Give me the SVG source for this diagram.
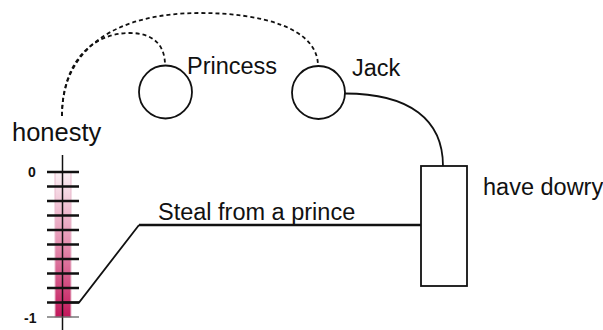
<svg xmlns="http://www.w3.org/2000/svg" width="603" height="330" viewBox="0 0 603 330">
<defs>
<linearGradient id="pink" x1="0" y1="0" x2="0" y2="1">
<stop offset="0" stop-color="#fbf1f5"/>
<stop offset="0.5" stop-color="#e48fb0"/>
<stop offset="1" stop-color="#c2185b"/>
</linearGradient>
<style>
text{font-family:"Liberation Sans",Arial,sans-serif;fill:#111;}
.lbl{font-size:23.5px;}
.num{font-size:14px;font-weight:bold;}
.node{fill:#fff;stroke:#111;stroke-width:1.8;}
.dash{fill:none;stroke:#111;stroke-width:1.8;stroke-dasharray:4 3;}
.solid{fill:none;stroke:#111;stroke-width:1.8;}
.tick{stroke:#111;stroke-width:2.5;}
</style>
</defs>
<rect width="603" height="330" fill="#fff"/>
<g id="honesty">
<text x="12" y="141" style="font-size:25.5px">honesty</text>
<rect x="55" y="172" width="16" height="145" fill="url(#pink)" stroke="#e7b9cb" stroke-width="1"/>
<line x1="62.5" y1="155" x2="62.5" y2="330" stroke="#111" stroke-width="1.5"/>
<g class="tick">
<line x1="47" y1="172" x2="79" y2="172"/>
<line x1="47" y1="186.5" x2="79" y2="186.5"/>
<line x1="47" y1="201" x2="79" y2="201"/>
<line x1="47" y1="215.5" x2="79" y2="215.5"/>
<line x1="47" y1="230" x2="79" y2="230"/>
<line x1="47" y1="244.5" x2="79" y2="244.5"/>
<line x1="47" y1="259" x2="79" y2="259"/>
<line x1="47" y1="273.5" x2="79" y2="273.5"/>
<line x1="47" y1="288" x2="79" y2="288"/>
<line x1="47" y1="302.5" x2="79" y2="302.5"/>
<line x1="47" y1="317" x2="79" y2="317" stroke-width="1.2" stroke="#555"/>
</g>
<text class="num" x="28" y="177">0</text>
<text class="num" x="24" y="323">-1</text>
</g>
<g id="princess">
<circle class="node" cx="165.5" cy="92" r="26.5"/>
<text class="lbl" x="187" y="74">Princess</text>
</g>
<g id="jack">
<circle class="node" cx="318.5" cy="92.5" r="26.5"/>
<text class="lbl" x="352" y="76">Jack</text>
</g>
<g id="have-dowry">
<rect class="node" x="421" y="166" width="46" height="120" stroke-width="1.5"/>
<text class="lbl" x="483" y="195">have dowry</text>
</g>
<g id="steal">
<text class="lbl" x="158" y="220">Steal from a prince</text>
</g>
<g id="connectors">
<path class="dash" d="M62,116 C62,45 120,13 200,13 C262,13 318,28 318,66"/>
<path class="dash" d="M62,116 C62,62 92,33 130,33 C152,33 165,44 165,65"/>
<path class="solid" d="M345,93.5 C410,93.5 443,120 443,166"/>
<path fill="none" stroke="#111" stroke-width="2.6" d="M421,225 L139,225"/>
<path class="solid" d="M139,225 L79,302.5 L62,302.5"/>
</g>
</svg>
